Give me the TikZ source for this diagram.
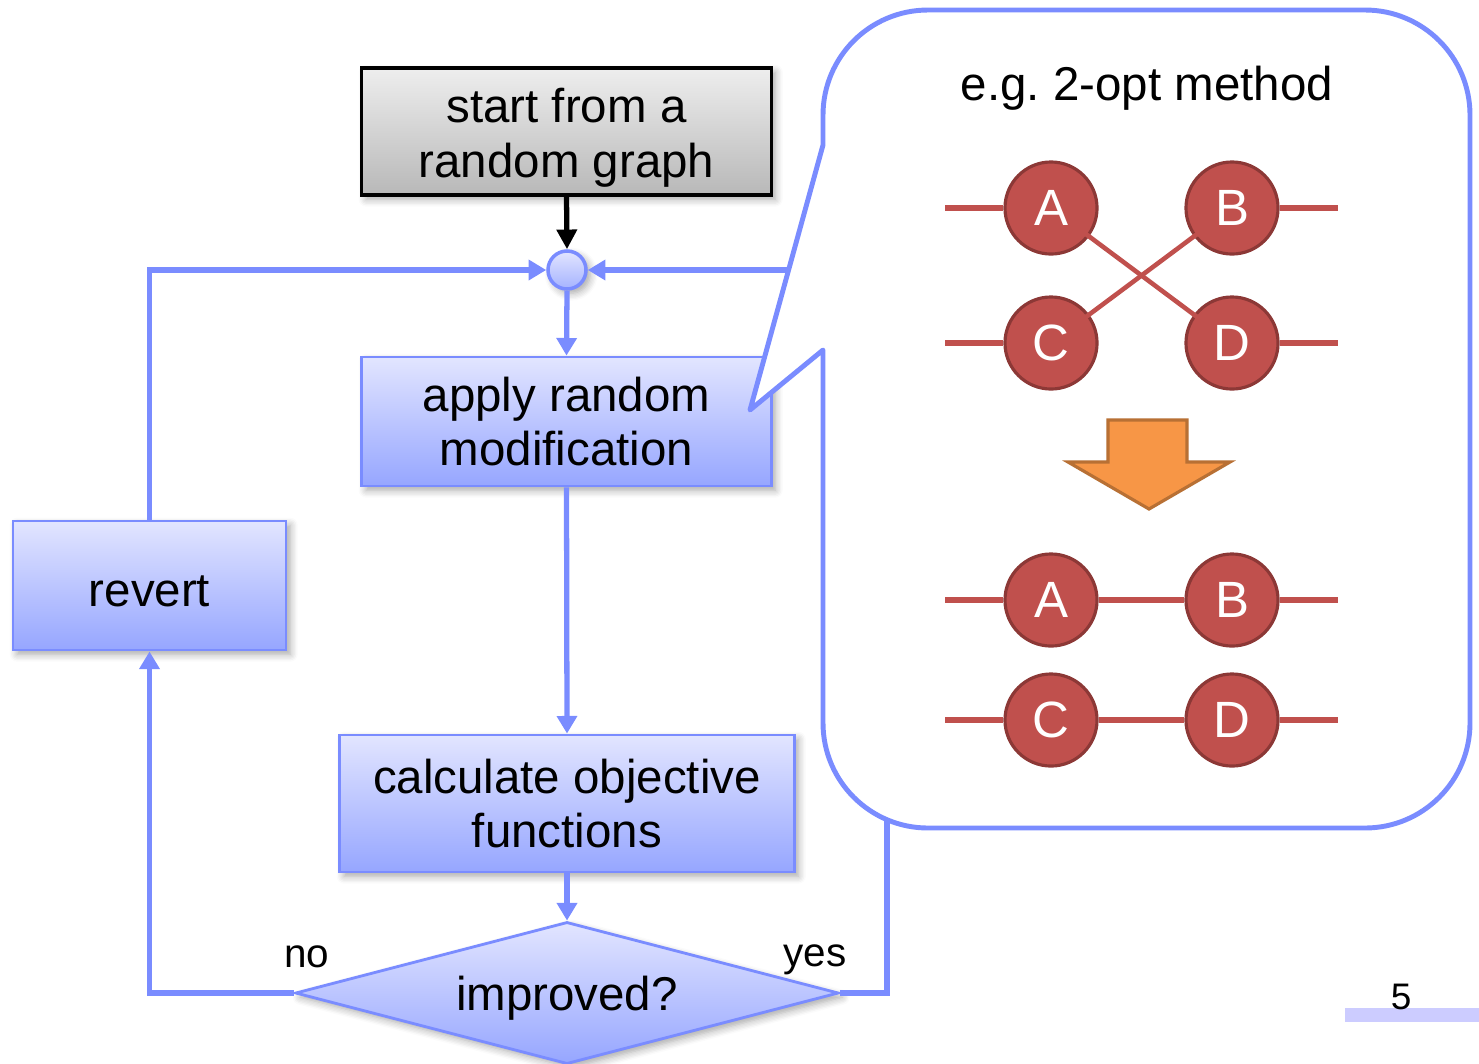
\documentclass[tikz,border=0pt]{standalone}
\usepackage{fontspec}
\setmainfont{Liberation Sans}
\usetikzlibrary{arrows.meta,shapes.geometric,shadows.blur}

\definecolor{flowblue}{RGB}{122,140,255}
\definecolor{boxtop}{RGB}{226,229,255}
\definecolor{boxbottom}{RGB}{150,166,255}
\definecolor{graytop}{RGB}{238,238,238}
\definecolor{graybottom}{RGB}{184,184,184}
\definecolor{nodered}{RGB}{192,80,77}
\definecolor{nodeborder}{RGB}{140,56,54}
\definecolor{arroworange}{RGB}{247,150,70}
\definecolor{arrowedge}{RGB}{184,112,52}
\definecolor{pagebar}{RGB}{204,204,255}

\newcommand{\mainfs}{\fontsize{13.5}{15.6}\selectfont}
\newcommand{\graphfs}{\fontsize{14.5}{17}\selectfont}

\tikzset{
  softshadow/.style={blur shadow={shadow xshift=1.2pt, shadow yshift=-1.2pt,
      shadow blur steps=6, shadow opacity=35}},
  flowbox/.style={rectangle, draw=flowblue, line width=0.8pt,
      top color=boxtop, bottom color=boxbottom, align=center,
      inner sep=0pt, font=\mainfs, softshadow},
  startbox/.style={rectangle, draw=black, line width=0.9pt,
      top color=graytop, bottom color=graybottom, align=center,
      inner sep=0pt, font=\mainfs, softshadow},
  decision/.style={diamond, aspect=3.82, draw=flowblue, line width=0.8pt,
      top color=boxtop, bottom color=boxbottom, inner sep=0pt,
      font=\mainfs, softshadow},
  junction/.style={circle, draw=flowblue, line width=1pt,
      top color=boxtop, bottom color=boxbottom!80!boxtop,
      minimum size=0.38cm, inner sep=0pt, softshadow},
  flowline/.style={draw=flowblue, line width=1.5pt},
  flowarrow/.style={flowline, -{Triangle[length=5pt,width=5.6pt]}},
  blackarrow/.style={draw=black, line width=1.5pt,
      -{Triangle[length=5.6pt,width=5.6pt]}},
  callout/.style={draw=flowblue, line width=1.4pt, fill=white,
      line join=round},
  vertex/.style={circle, fill=nodered, draw=nodeborder, line width=0.9pt,
      minimum size=0.92cm, inner sep=0pt, text=white, font=\graphfs},
  edge/.style={draw=nodered, line width=1.5pt},
  crossedge/.style={edge, line width=1.3pt, shorten <=-1.3pt, shorten >=-1.3pt},
  bigarrow/.style={fill=arroworange, draw=arrowedge, line width=0.9pt,
      line join=miter},
  plain/.style={font=\mainfs, inner sep=0pt},
}

\begin{document}
\begin{tikzpicture}[x=0.01cm, y=-0.01cm]
  \useasboundingbox (0,0) rectangle (1479,1063);

  % flowchart boxes
  \node[startbox, minimum width=4.09cm, minimum height=1.27cm]
    (start) at (566.5,131.5) {\rule{0pt}{13.3pt}start from a\\random graph};
  \node[junction] (junc) at (567,270) {};
  \node[flowbox, minimum width=4.09cm, minimum height=1.29cm]
    (apply) at (566.5,421.5) {apply random\\modification};
  \node[flowbox, minimum width=4.54cm, minimum height=1.37cm]
    (calc) at (567,803.5) {calculate objective\\functions};
  \node[decision, minimum width=5.43cm, minimum height=1.42cm]
    (dec) at (567,993) {\rule{0pt}{13pt}improved?};
  \node[flowbox, minimum width=2.73cm, minimum height=1.29cm]
    (revert) at (149.5,585.5) {\rule{0pt}{12pt}revert};

  % branch labels
  \node[plain, font=\fontsize{11.5}{14}\selectfont] (nolabel) at (307,957) {no};
  \node[plain, font=\fontsize{11.5}{14}\selectfont] (yeslabel) at (815,960) {yes};

  % flow connectors
  \draw[blackarrow] (start.south) -- (junc.north);
  \draw[flowarrow] (junc.south) -- (apply.north);
  \draw[flowarrow] (apply.south) -- (calc.north);
  \draw[flowarrow] (calc.south) -- (dec.north);
  \draw[flowarrow] (dec.west) -| (revert.south);
  \draw[flowarrow] (revert.north) |- (junc.west);
  \coordinate (yesturn) at (887,993);
  \draw[flowarrow] (dec.east) -- (yesturn) |- (junc.east);

  % speech-bubble callout with the 2-opt example
  \draw[callout] (823,145) -- (750,410) -- (823,350) -- (823,723)
    .. controls (823,781) and (870,828) .. (928,828) -- (1365,828)
    .. controls (1423,828) and (1470,781) .. (1470,723) -- (1470,115)
    .. controls (1470,57) and (1423,10) .. (1365,10) -- (928,10)
    .. controls (870,10) and (823,57) .. (823,115) -- cycle;

  \node[plain] (title) at (1147,88) {e.g.\ 2-opt method};

  % graph before the move
  \node[vertex] (A1) at (1051,208) {A};
  \node[vertex] (B1) at (1232,208) {B};
  \node[vertex] (C1) at (1051,343) {C};
  \node[vertex] (D1) at (1232,343) {D};
  \coordinate (la1) at (945,208);
  \coordinate (rb1) at (1338,208);
  \coordinate (lc1) at (945,343);
  \coordinate (rd1) at (1338,343);
  \draw[edge] (la1) -- (A1);
  \draw[edge] (B1) -- (rb1);
  \draw[edge] (lc1) -- (C1);
  \draw[edge] (D1) -- (rd1);
  \draw[crossedge] (A1) -- (D1);
  \draw[crossedge] (B1) -- (C1);

  % down arrow between the two states
  \draw[bigarrow] (1108,420) -- (1187,420) -- (1187,462) -- (1230,462)
    -- (1149,509) -- (1068,462) -- (1108,462) -- cycle;

  % graph after the move
  \node[vertex] (A2) at (1051,600) {A};
  \node[vertex] (B2) at (1232,600) {B};
  \node[vertex] (C2) at (1051,720) {C};
  \node[vertex] (D2) at (1232,720) {D};
  \coordinate (la2) at (945,600);
  \coordinate (rb2) at (1338,600);
  \coordinate (lc2) at (945,720);
  \coordinate (rd2) at (1338,720);
  \draw[edge] (la2) -- (A2);
  \draw[edge] (A2) -- (B2);
  \draw[edge] (B2) -- (rb2);
  \draw[edge] (lc2) -- (C2);
  \draw[edge] (C2) -- (D2);
  \draw[edge] (D2) -- (rd2);

  % page number
  \fill[pagebar] (1345,1008) rectangle (1479,1022);
  \node[plain, font=\fontsize{10.5}{12}\selectfont] (pagenum) at (1401,997) {5};
\end{tikzpicture}
\end{document}
